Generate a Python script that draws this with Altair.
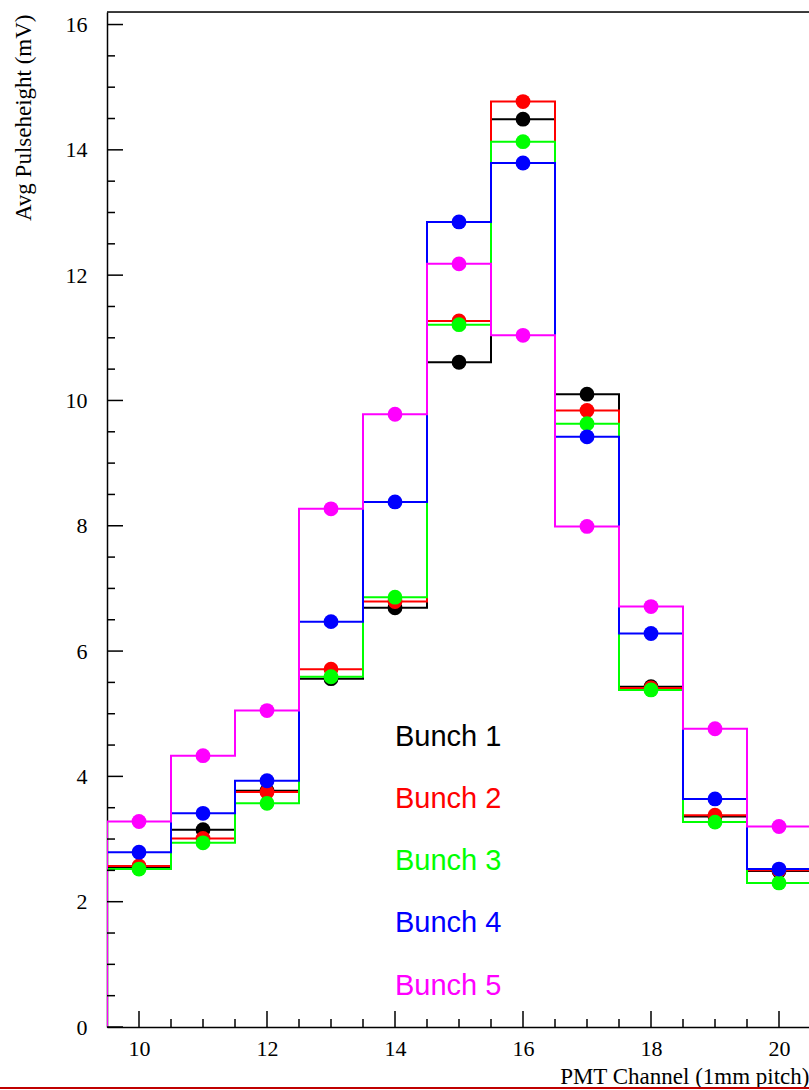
import altair as alt
import pandas as pd

# ---- data ----
channels = [10, 11, 12, 13, 14, 15, 16, 17, 18, 19, 20]
bunch1 = [2.55, 3.15, 3.77, 5.56, 6.69, 10.61, 14.49, 10.10, 5.43, 3.36, 2.49]
bunch2 = [2.57, 3.01, 3.75, 5.71, 6.79, 11.27, 14.77, 9.84, 5.41, 3.38, 2.50]
bunch3 = [2.52, 2.94, 3.57, 5.59, 6.86, 11.21, 14.13, 9.63, 5.38, 3.27, 2.30]
bunch4 = [2.79, 3.41, 3.93, 6.47, 8.38, 12.85, 13.79, 9.42, 6.28, 3.64, 2.52]
bunch5 = [3.28, 4.33, 5.05, 8.27, 9.78, 12.18, 11.04, 7.99, 6.71, 4.76, 3.20]
series_names = ["Bunch 1", "Bunch 2", "Bunch 3", "Bunch 4", "Bunch 5"]
series_colors = ["#000000", "#ff0000", "#00ff00", "#0000ff", "#ff00ff"]
series_values = [bunch1, bunch2, bunch3, bunch4, bunch5]

y_major_ticks = [0, 2, 4, 6, 8, 10, 12, 14, 16]
y_minor_ticks = [0.5, 1, 1.5, 2.5, 3, 3.5, 4.5, 5, 5.5, 6.5, 7, 7.5, 8.5, 9, 9.5,
                 10.5, 11, 11.5, 12.5, 13, 13.5, 14.5, 15, 15.5]
x_major_ticks = [10, 12, 14, 16, 18, 20]
x_minor_ticks = [10.5, 11, 11.5, 12.5, 13, 13.5, 14.5, 15, 15.5, 16.5, 17, 17.5,
                 18.5, 19, 19.5]

W, H = 702, 1015
xs = alt.Scale(domain=[9.5, 20.46875], nice=False, zero=False)
ys = alt.Scale(domain=[0, 16.2], nice=False, zero=True)

SERIF = "Liberation Serif"
SANS = "Liberation Sans"

x_axis = alt.Axis(values=x_major_ticks, ticks=False, tickSize=0, grid=False,
                  labelFont=SERIF, labelFontSize=22, labelPadding=11,
                  labelColor="black", domainColor="black", domainWidth=1.5,
                  title="PMT Channel (1mm pitch)", titleFont=SERIF,
                  titleFontSize=23, titleFontWeight="normal", titleColor="black",
                  titleAnchor="end", titleAlign="right", titleX=W, titleY=56,
                  titleBaseline="alphabetic")
y_axis = alt.Axis(values=y_major_ticks, ticks=False, tickSize=0, grid=False,
                  labelFont=SERIF, labelFontSize=22, labelPadding=20,
                  labelColor="black", domainColor="black", domainWidth=1.5,
                  title="Avg Pulseheight (mV)", titleFont=SERIF,
                  titleFontSize=23, titleFontWeight="normal", titleColor="black",
                  titleAngle=270, titleAlign="right", titleX=-77, titleY=2,
                  titleBaseline="alphabetic")

layers = []
for name, color, vals in zip(series_names, series_colors, series_values):
    # histogram outline: edges from bin centres
    edges_x = [channels[0] - 0.5] + [c - 0.5 for c in channels] + [channels[-1] + 0.5] * 2
    edges_y = [0] + list(vals) + [vals[-1], 0]
    step_df = pd.DataFrame({"x": edges_x, "y": edges_y, "o": list(range(len(edges_x)))})
    line = alt.Chart(step_df).mark_line(
        interpolate="step-after", color=color, strokeWidth=2, clip=True
    ).encode(
        x=alt.X("x:Q", scale=xs, axis=x_axis),
        y=alt.Y("y:Q", scale=ys, axis=y_axis),
        order="o:Q",
    )
    pts_df = pd.DataFrame({"x": channels, "y": vals})
    pts = alt.Chart(pts_df).mark_point(
        shape="circle", filled=True, size=220, opacity=1, color=color, strokeWidth=0
    ).encode(
        x=alt.X("x:Q", scale=xs, axis=x_axis),
        y=alt.Y("y:Q", scale=ys, axis=y_axis),
    )
    layers += [line, pts]

# inward ROOT-style ticks
def yticks(vals, length):
    return alt.Chart(pd.DataFrame({"y": vals})).mark_rule(color="black", strokeWidth=1.5).encode(
        y=alt.Y("y:Q", scale=ys, axis=y_axis), x=alt.value(0), x2=alt.value(length))

def xticks(vals, length):
    return alt.Chart(pd.DataFrame({"x": vals})).mark_rule(color="black", strokeWidth=1.5).encode(
        x=alt.X("x:Q", scale=xs, axis=x_axis), y=alt.value(H), y2=alt.value(H - length))

layers += [yticks(y_major_ticks, 16), yticks(y_minor_ticks, 8),
           xticks(x_major_ticks, 16), xticks(x_minor_ticks, 8)]

# top frame line
layers.append(alt.Chart(pd.DataFrame({"a": [0]})).mark_rule(color="black", strokeWidth=1.5).encode(
    x=alt.value(0), x2=alt.value(W), y=alt.value(0)))

# bottom red border line
layers.append(alt.Chart(pd.DataFrame({"a": [0]})).mark_rule(color="#c00000", strokeWidth=2).encode(
    x=alt.value(-107), x2=alt.value(W), y=alt.value(1076)))

# legend texts
legend_y = [734, 796, 858, 920, 983]
for name, color, ly in zip(series_names, series_colors, legend_y):
    layers.append(alt.Chart(pd.DataFrame({"t": [name]})).mark_text(
        font=SANS, fontSize=29, color=color, align="left", baseline="alphabetic"
    ).encode(text="t:N", x=alt.value(288), y=alt.value(ly)))

chart = alt.layer(*layers).properties(
    width=W, height=H,
    padding={"left": 107, "top": 12, "right": 0, "bottom": 62},
    autosize=alt.AutoSizeParams(type="none"),
).configure_view(stroke=None).configure(background="white")

chart.save("out.html", embed_options={"renderer": "svg", "actions": False})
